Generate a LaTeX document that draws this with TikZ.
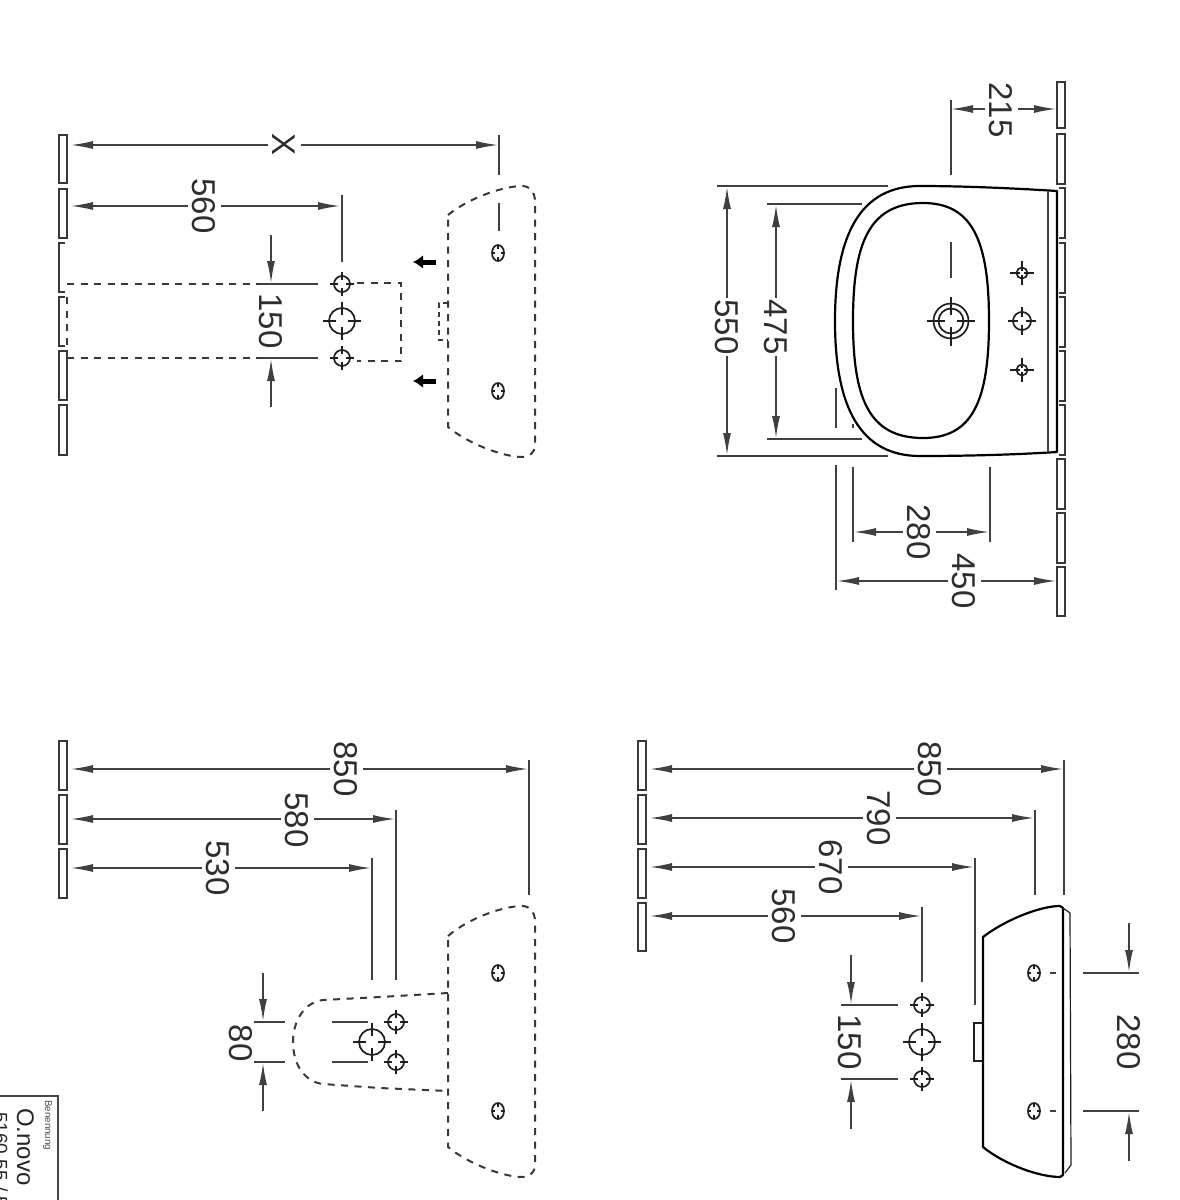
\documentclass[tikz,border=0pt]{standalone}
\usepackage{fontspec}
\setmainfont{Liberation Sans}
\usetikzlibrary{arrows.meta}
\tikzset{
  every picture/.style={x=1pt,y=-1pt},
  dimline/.style={draw=black!75,line width=1.4pt},
  both/.style={dimline,{Latex[length=22pt,width=8pt]}-{Latex[length=22pt,width=8pt]}},
  tipend/.style={dimline,-{Latex[length=22pt,width=8pt]}},
  ext/.style={draw=black!75,line width=1.4pt},
  heavy/.style={draw=black,line width=2.2pt,line join=round},
  mid/.style={draw=black!88,line width=1.5pt},
  dashline/.style={draw=black!78,line width=2pt,dash pattern=on 7pt off 6.5pt},
  walls/.style={draw=black!78,line width=1.2pt},
  dimtext/.style={xshift=1.5pt,rotate=-90,font=\fontsize{33}{33}\selectfont,text=black!82,fill=white,inner xsep=1pt,inner ysep=5pt,text height=23.6pt,text depth=0pt,anchor=center},
  fat/.style={draw=black,line width=5pt,-{Latex[length=10pt,width=14pt]}},
}
\newcommand{\wallbox}[4]{\draw[walls] (#1,#3) rectangle (#2,#4);}
\newcommand{\holemark}[5]{% x y rx ry stub
  \draw[mid,line width=1.7pt] (#1,#2) ellipse [x radius=#3,y radius=#4];
  \draw[mid] ({#1-#5},#2) -- ({#1-0.45*#3},#2) ({#1+0.45*#3},#2) -- ({#1+#5},#2)
             (#1,{#2-#5-(#4-#3)}) -- (#1,{#2-0.45*#4}) (#1,{#2+0.45*#4}) -- (#1,{#2+#5+(#4-#3)});}
\begin{document}
\begin{tikzpicture}
\useasboundingbox (0,0) rectangle (1179,1200);
\clip (0,0) rectangle (1179,1200);
\fill[white] (0,0) rectangle (1179,1200);

%% ---------- top right: plan of the basin ----------
\foreach \a/\b in {82/128,134/184,459/509,513/563,567/616}{\wallbox{1057}{1065}{\a}{\b}}
\foreach \a/\b in {188/238,243/293,297/347,351/401,405/455}{
  \draw[walls] (1059,\a) -- (1065,\a) -- (1065,\b) -- (1059,\b);}
\draw[heavy] (1057,191) .. controls (1010,188) and (960,186) .. (920,186)
  .. controls (860,186) and (835,235) .. (835,321)
  .. controls (835,407) and (860,456) .. (920,456)
  .. controls (960,456) and (1010,455) .. (1057,452) -- cycle;
\draw[heavy] (923,203) .. controls (972,203) and (989,240) .. (989,321)
  .. controls (989,402) and (972,438) .. (923,438)
  .. controls (868,438) and (853,397) .. (853,321)
  .. controls (853,245) and (868,203) .. (923,203) -- cycle;
\draw[ext] (1048,191) -- (1048,452);
\draw[mid,line width=1.7pt] (951,321) circle (17.5) (951,321) circle (12.5);
\draw[mid] (927,321) -- (945,321) (957,321) -- (975,321) (951,297) -- (951,315) (951,327) -- (951,346);
\holemark{1022}{321}{9}{9}{14}
\holemark{1022}{273}{5.5}{5.5}{12}
\holemark{1022}{370}{5.5}{5.5}{12}
% 215
\draw[ext] (951,100) -- (951,175) (951,242) -- (951,278);
\draw[both] (951,109) -- (1056,109);
\node[dimtext] (d215) at (1000,110) {215};
% 550
\draw[ext] (717,186) -- (888,186) (717,456) -- (888,456);
\draw[both] (727,187) -- (727,455);
\node[dimtext] (d550) at (726,327) {550};
% 475
\draw[ext] (767,204) -- (862,204) (767,439) -- (862,439);
\draw[both] (776,205) -- (776,438);
\node[dimtext] (d475) at (775,327) {475};
% 280, 450
\draw[ext] (836,388) -- (836,428) (836,465) -- (836,590)
           (853,424) -- (853,428) (853,467) -- (853,542)
           (990,467) -- (990,542);
\draw[both] (854,532) -- (989,532);
\node[dimtext] (d280a) at (918,532) {280};
\draw[both] (837,581) -- (1056,581);
\node[dimtext] (d450) at (963,581) {450};

%% ---------- top left: fixing dimensions ----------
\foreach \a/\b in {135/183,189/238,351/400,405/455}{\wallbox{59}{67}{\a}{\b}}
\draw[walls] (65,243) -- (59,243) -- (59,292) -- (65,292);
\draw[walls] (65,297) -- (59,297) -- (59,346) -- (65,346);
\draw[dashline] (67,297) -- (67,347);
\draw[dashline] (67,284) -- (262,284) (67,358) -- (262,358);
\draw[both] (71,145) -- (498,145);
\node[dimtext,inner xsep=4pt] (dx) at (283,145) {X};
\draw[ext] (499,135) -- (499,175) (499,203) -- (499,231);
\draw[both] (71,206) -- (340,206);
\node[dimtext] (d560a) at (203,206) {560};
\draw[ext] (342,195) -- (342,262);
\draw[ext] (262,284) -- (318,284) (262,358) -- (318,358);
\draw[tipend] (271,235) -- (271,283);
\draw[tipend] (271,407) -- (271,359);
\node[dimtext,fill=none] (d150a) at (270,321) {150};
\holemark{342}{284}{8}{8}{12}
\holemark{342}{321}{13}{13}{19}
\holemark{342}{358}{8}{8}{12}
\draw[dashline] (357,283) -- (401,283) -- (401,361) -- (357,361);
\draw[dashline] (448,215) .. controls (470,197) and (505,186) .. (522,186)
  .. controls (530,186) and (535,192) .. (535,202) -- (535,445)
  .. controls (535,452) and (530,457) .. (522,457)
  .. controls (505,457) and (470,445) .. (448,427) -- cycle;
\draw[dashline,line width=1.5pt,dash pattern=on 5pt off 4pt] (448,303) -- (439,303) -- (439,340) -- (448,340);
\holemark{498}{253}{6}{8}{6}
\holemark{498}{391}{6}{8}{6}
\coordinate (fa1) at (436,262); \coordinate (fa2) at (413,262);
\coordinate (fb1) at (436,381); \coordinate (fb2) at (413,381);
\draw[fat] (fa1) -- (fa2);
\draw[fat] (fb1) -- (fb2);

%% ---------- bottom left ----------
\foreach \a/\b in {741/790,795/844,849/898}{\wallbox{59}{67}{\a}{\b}}
\draw[both] (71,769) -- (528,769);
\node[dimtext] (d850a) at (345,769) {850};
\draw[ext] (529,760) -- (529,895);
\draw[both] (71,819) -- (395,819);
\node[dimtext] (d580) at (296,820) {580};
\draw[ext] (396,810) -- (396,980);
\draw[both] (71,868) -- (371,868);
\node[dimtext] (d530) at (217,868) {530};
\draw[ext] (372,858) -- (372,980);
\draw[dashline] (448,936) .. controls (470,917) and (505,906) .. (522,906)
  .. controls (530,906) and (535,912) .. (535,922) -- (535,1165)
  .. controls (535,1172) and (530,1177) .. (522,1177)
  .. controls (505,1177) and (470,1165) .. (448,1147) -- cycle;
\draw[dashline] (448,993) -- (380,997) -- (323,1000)
  .. controls (305,1002) and (293,1020) .. (293,1042)
  .. controls (293,1065) and (305,1082) .. (323,1084) -- (380,1088) -- (448,1091);
\holemark{498}{973}{6}{8}{6}
\holemark{498}{1111}{6}{8}{6}
\holemark{372}{1042}{13}{13}{19}
\holemark{396}{1022}{8}{8}{12}
\holemark{396}{1062}{8}{8}{12}
\draw[ext] (254,1022) -- (285,1022) (332,1022) -- (368,1022)
           (254,1062) -- (285,1062) (332,1062) -- (368,1062);
\draw[tipend] (263,973) -- (263,1021);
\draw[tipend] (263,1111) -- (263,1063);
\node[dimtext,fill=none] (d80) at (240,1043) {80};

%% ---------- bottom right: side view ----------
\foreach \a/\b in {741/790,795/844,849/898,903/951}{\wallbox{638}{646}{\a}{\b}}
\draw[both] (650,769) -- (1063,769);
\node[dimtext] (d850b) at (929,769) {850};
\draw[ext] (1064,760) -- (1064,895);
\draw[both] (650,818) -- (1034,818);
\node[dimtext] (d790) at (878,818) {790};
\draw[ext] (1035,810) -- (1035,895);
\draw[both] (650,867) -- (974,867);
\node[dimtext] (d670) at (830,867) {670};
\draw[ext] (975,858) -- (975,1005);
\draw[both] (650,916) -- (921,916);
\node[dimtext] (d560b) at (783,916) {560};
\draw[ext] (922,907) -- (922,982);
\draw[ext] (841,1005) -- (898,1005) (841,1079) -- (898,1079);
\draw[tipend] (851,955) -- (851,1004);
\draw[tipend] (851,1129) -- (851,1080);
\node[dimtext,fill=none] (d150b) at (849,1042) {150};
\holemark{922}{1005}{8}{8}{12}
\holemark{922}{1042}{13}{13}{19}
\holemark{922}{1079}{8}{8}{12}
\draw[heavy] (983,937) .. controls (1005,920) and (1040,906) .. (1060,906) -- (1063,908) -- (1063,1175) -- (1060,1177)
  .. controls (1040,1177) and (1005,1165) .. (983,1147) -- cycle;
\draw[mid,line width=1.2pt] (1063,908) -- (1070,913) -- (1071,1165) -- (1065,1173);
\draw[mid] (983,1023) -- (974,1023) -- (974,1061) -- (983,1061);
\holemark{1034}{973}{6}{8}{6}
\holemark{1034}{1111}{6}{8}{6}
\draw[ext] (1050,973) -- (1056,973) (1050,1111) -- (1056,1111);
\draw[ext] (1083,973) -- (1139,973) (1083,1111) -- (1139,1111);
\draw[tipend] (1129,923) -- (1129,972);
\draw[tipend] (1129,1161) -- (1129,1112);
\node[dimtext,fill=none] (d280b) at (1128,1042) {280};

%% ---------- title block ----------
\draw[draw=black!72,line width=2pt] (-5,1096) -- (58,1096) -- (58,1205);
\node[rotate=-90,anchor=north west,font=\fontsize{9.8}{10}\selectfont,text=black!70,inner sep=0pt] (tb1) at (52,1100) {Benennung};
\node[rotate=-90,anchor=north west,font=\fontsize{24}{24}\selectfont,text=black!85,inner sep=0pt] (tb2) at (34,1108) {O.novo};
\node[rotate=-90,anchor=north west,font=\fontsize{19}{19}\selectfont,text=black!85,inner sep=0pt] (tb3) at (8,1112) {5160.55 / 5};
\end{tikzpicture}
\end{document}
